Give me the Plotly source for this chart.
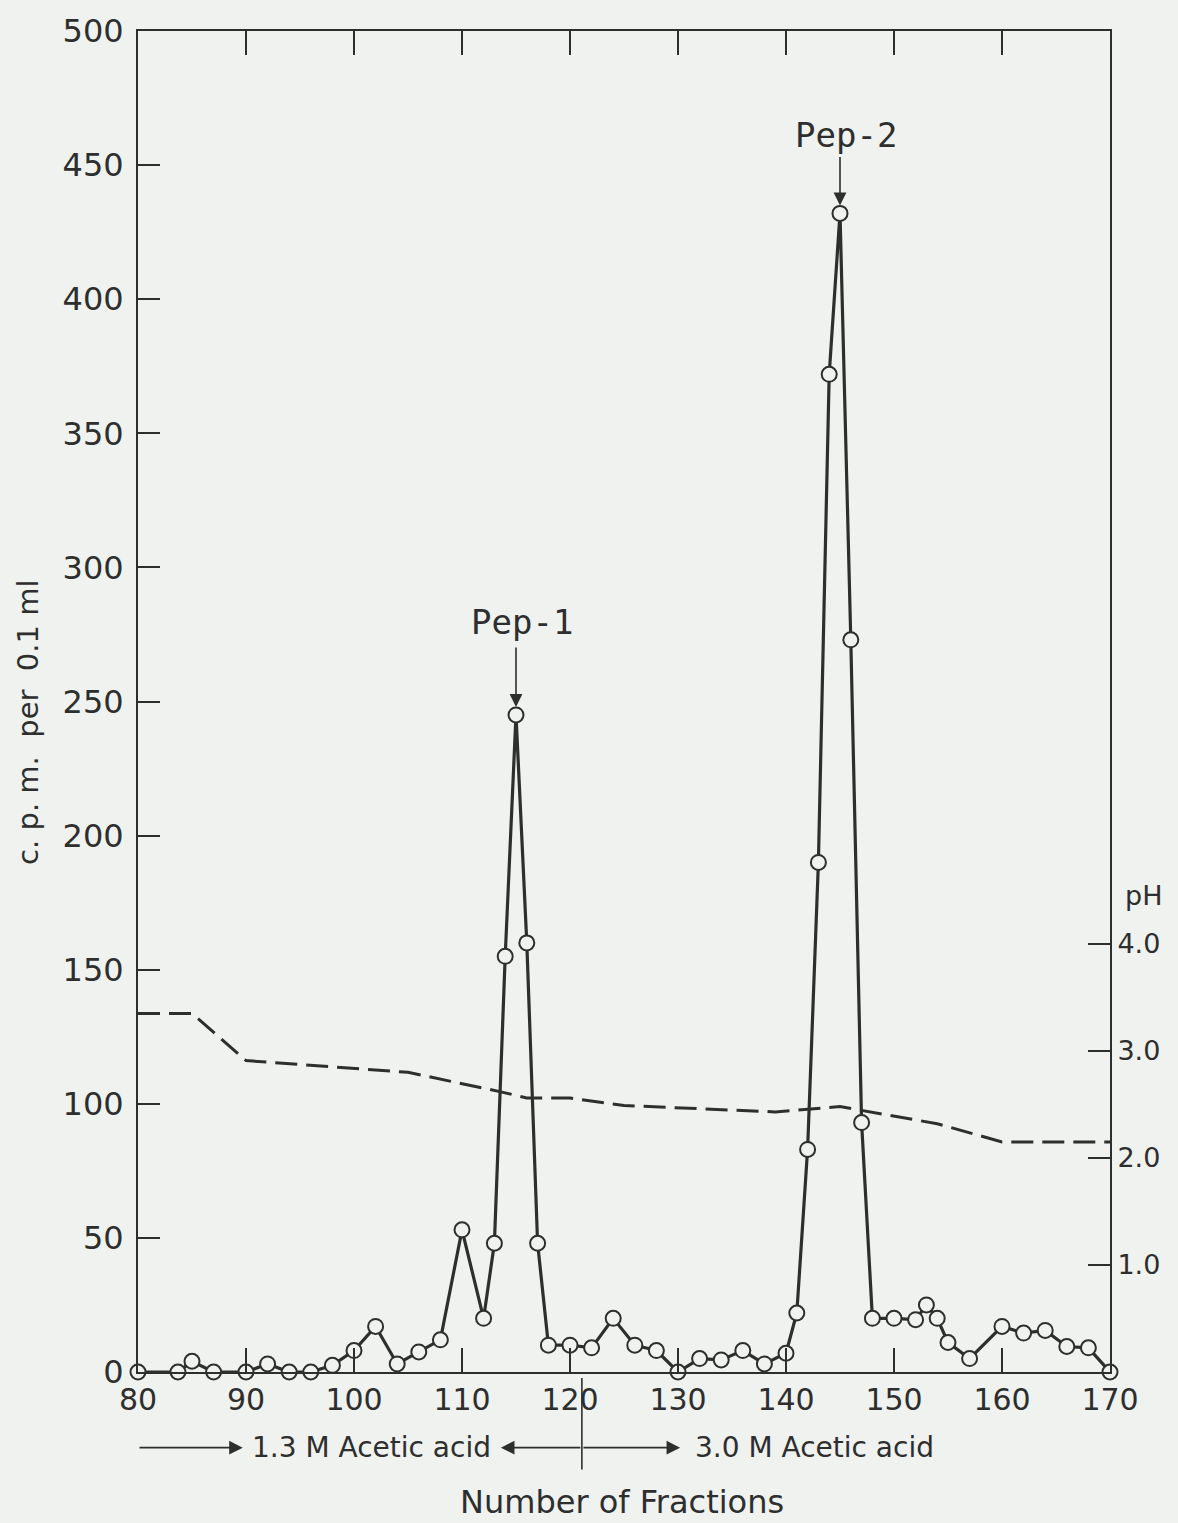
import plotly.graph_objects as go

# ---- data -------------------------------------------------------------
fraction = [80, 83.7, 85, 87, 90, 92, 94, 96, 98, 100, 102, 104, 106, 108,
            110, 112, 113, 114, 115, 116, 117, 118, 120, 122, 124, 126, 128,
            130, 132, 134, 136, 138, 140, 141, 142, 143, 144, 145, 146, 147,
            148, 150, 152, 153, 154, 155, 157, 160, 162, 164, 166, 168, 170]
cpm = [0, 0, 4, 0, 0, 3, 0, 0, 2.5, 8, 17, 3, 7.5, 12,
       53, 20, 48, 155, 245, 160, 48, 10, 10, 9, 20, 10, 8,
       0, 5, 4.5, 8, 3, 7, 22, 83, 190, 372, 432, 273, 93,
       20, 20, 19.5, 25, 20, 11, 5, 17, 14.5, 15.5, 9.5, 9, 0]

ph_fraction = [80, 85, 90, 105, 113.5, 116, 120, 125, 139, 145, 154, 160, 170]
ph_value = [3.35, 3.35, 2.91, 2.80, 2.62, 2.56, 2.56, 2.49, 2.43, 2.48, 2.32, 2.15, 2.15]

x_ticks = [80, 90, 100, 110, 120, 130, 140, 150, 160, 170]
y_ticks = [0, 50, 100, 150, 200, 250, 300, 350, 400, 450, 500]
ph_ticks = [1.0, 2.0, 3.0, 4.0]
ph_ticktext = ["1.0", "2.0", "3.0", "4.0"]

peaks = [(115, 245, "Pep-1"), (145, 432, "Pep-2")]

# ---- styling ----------------------------------------------------------
W, H = 1178, 1523
L, R, T, B = 138, 68, 25, 151
PW, PH = W - L - R, H - T - B
BG = "#eff2ef"
INK = "#2e2e2e"
FONT = "DejaVu Sans"


def paper_x(px):
    return (px - L) / PW


def paper_y(py):
    return (H - B - py) / PH


fig = go.Figure()

# pH gradient (dashed, right axis)
fig.add_trace(go.Scatter(
    x=ph_fraction, y=ph_value, yaxis="y2", mode="lines",
    line=dict(color=INK, width=3, dash="22px,9px"),
    hoverinfo="skip", showlegend=False,
))

# radioactivity profile
fig.add_trace(go.Scatter(
    x=fraction, y=cpm, mode="lines+markers",
    line=dict(color=INK, width=3.2),
    marker=dict(symbol="circle", size=15, color=BG,
                line=dict(color=INK, width=2)),
    showlegend=False, cliponaxis=False,
))

annotations = []

# peak labels with arrows
for px_, py_, label in peaks:
    annotations.append(dict(
        x=px_, y=py_, xref="x", yref="y", text="", showarrow=True,
        ax=0, ay=-69 if label == "Pep-1" else -58, axref="pixel", ayref="pixel",
        arrowhead=2, arrowsize=1.6, arrowwidth=1.6, arrowcolor=INK, standoff=8,
    ))
    annotations.append(dict(
        x=px_ + 0.55, y=py_, xref="x", yref="y", text=label, showarrow=False,
        xanchor="center", yanchor="middle",
        yshift=93 if label == "Pep-1" else 78,
        font=dict(family="DejaVu Sans Mono", size=34, color=INK),
    ))

# eluent annotation under the axis
ARROW_Y = paper_y(1448)
arrow_common = dict(yref="paper", y=ARROW_Y, xref="x", axref="x", ayref="pixel",
                    ay=0, text="", showarrow=True, arrowhead=2, arrowsize=1.7,
                    arrowwidth=1.6, arrowcolor=INK)
annotations.append(dict(x=89.7, ax=80, **arrow_common))
annotations.append(dict(x=113.6, ax=121.1, **arrow_common))
annotations.append(dict(x=130.2, ax=121.1, **arrow_common))
annotations.append(dict(x=101.6, y=ARROW_Y, xref="x", yref="paper",
                        xanchor="center", yanchor="middle",
                        text="1.3 M Acetic acid", showarrow=False,
                        font=dict(family=FONT, size=28, color=INK)))
annotations.append(dict(x=142.6, y=ARROW_Y, xref="x", yref="paper",
                        xanchor="center", yanchor="middle",
                        text="3.0 M Acetic acid", showarrow=False,
                        font=dict(family=FONT, size=28, color=INK)))

# axis titles
annotations.append(dict(x=paper_x(622), y=paper_y(1503), xref="paper", yref="paper",
                        xanchor="center", yanchor="middle",
                        text="Number of Fractions", showarrow=False,
                        font=dict(family=FONT, size=32, color=INK)))
annotations.append(dict(x=paper_x(28), y=paper_y(720), xref="paper", yref="paper",
                        xanchor="center", yanchor="middle",
                        text="c. p. m.  per  0.1 ml", textangle=-90, showarrow=False,
                        font=dict(family=FONT, size=29, color=INK)))
annotations.append(dict(x=paper_x(1143), y=paper_y(893), xref="paper", yref="paper",
                        xanchor="center", yanchor="middle",
                        text="pH", showarrow=False,
                        font=dict(family=FONT, size=27, color=INK)))

shapes = [dict(type="line", xref="x", yref="paper", x0=121.1, x1=121.1,
               y0=paper_y(1378), y1=paper_y(1470),
               line=dict(color=INK, width=1.6))]

fig.update_layout(
    width=W, height=H,
    margin=dict(l=L, r=R, t=T, b=B, pad=0),
    paper_bgcolor=BG, plot_bgcolor=BG,
    font=dict(family=FONT, color=INK),
    annotations=annotations, shapes=shapes,
    xaxis=dict(range=[80, 170], tickvals=x_ticks, ticks="inside", ticklen=24,
               tickwidth=1.6, tickcolor=INK, showline=True, linewidth=2,
               linecolor=INK, mirror="ticks", showgrid=False, zeroline=False,
               tickfont=dict(size=30, color=INK)),
    yaxis=dict(range=[0, 500], tickvals=y_ticks, ticks="inside", ticklen=22,
               tickwidth=1.6, tickcolor=INK, showline=True, linewidth=2,
               linecolor=INK, showgrid=False, zeroline=False,
               ticklabelstandoff=6,
               tickfont=dict(size=32, color=INK)),
    yaxis2=dict(range=[0, 12.53], overlaying="y", side="right",
                tickvals=ph_ticks, ticktext=ph_ticktext, ticks="inside",
                ticklen=22, tickwidth=1.6, tickcolor=INK, showline=True,
                linewidth=2, linecolor=INK, showgrid=False, zeroline=False,
                tickfont=dict(size=27, color=INK)),
)

fig.write_html("out.html")
